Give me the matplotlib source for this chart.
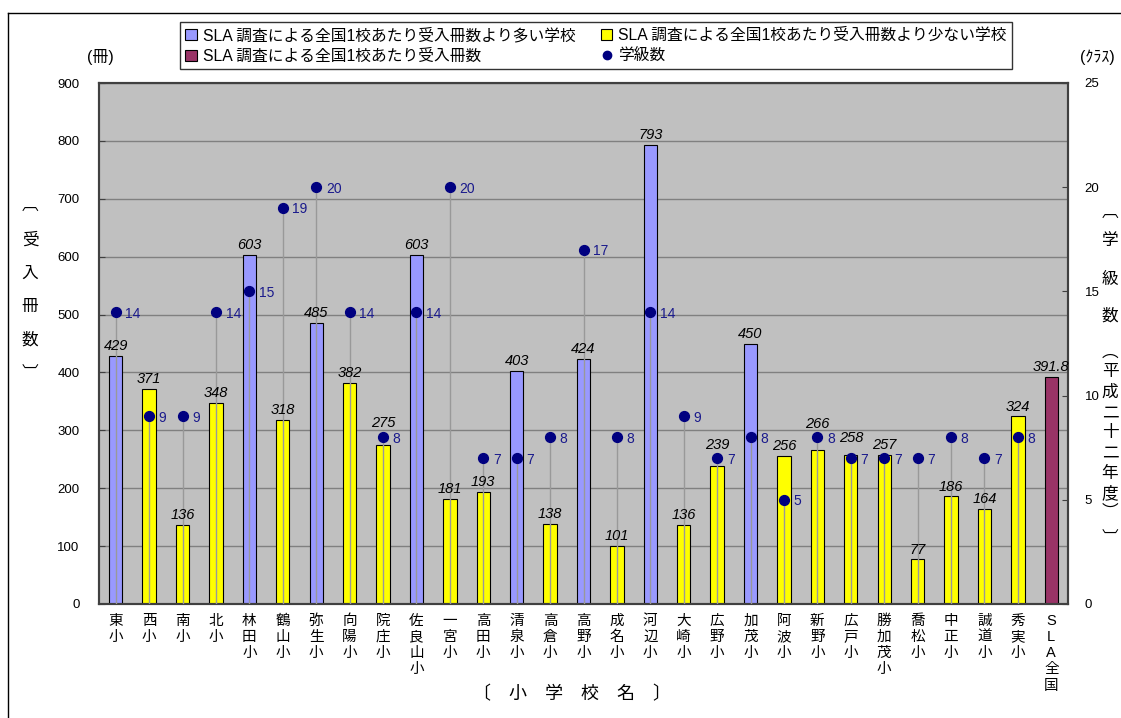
import matplotlib
matplotlib.use("Agg")
import matplotlib.pyplot as plt
from matplotlib.patches import Patch
from matplotlib.lines import Line2D
import numpy as np

plt.rcParams['font.family'] = ['Liberation Sans', 'Noto Sans CJK JP', 'DejaVu Sans']

# 学校名
schools = ["東小", "西小", "南小", "北小", "林田小", "鶴山小", "弥生小", "向陽小", "院庄小",
           "佐良山小", "一宮小", "高田小", "清泉小", "高倉小", "高野小", "成名小", "河辺小",
           "大崎小", "広野小", "加茂小", "阿波小", "新野小", "広戸小", "勝加茂小", "喬松小",
           "中正小", "誠道小", "秀実小"]
sla_label = "SLA全国"

# 受入冊数
books = [429, 371, 136, 348, 603, 318, 485, 382, 275, 603, 181, 193, 403, 138, 424,
         101, 793, 136, 239, 450, 256, 266, 258, 257, 77, 186, 164, 324]
sla_books = 391.8

# 学級数（平成二十二年度）
classes = [14, 9, 9, 14, 15, 19, 20, 14, 8, 14, 20, 7, 7, 8, 17, 8, 14, 9, 7, 8, 5,
           8, 7, 7, 7, 8, 7, 8]

left_ticks = [0, 100, 200, 300, 400, 500, 600, 700, 800, 900]
right_ticks = [0, 5, 10, 15, 20, 25]

C_MORE = "#9999FF"
C_LESS = "#FFFF00"
C_SLA = "#993366"
C_DOT = "#000080"

# 点と重なる値ラベルを少し持ち上げる量（ポイント）
label_lift = {"院庄小": 9, "新野小": 11.5, "広戸小": 5, "広野小": 8}

W, H = 1121, 718
fig = plt.figure(figsize=(W / 100, H / 100), dpi=100)
fig.patch.set_facecolor("white")

def fx(px):
    return px / W

def fy(py):
    return 1 - py / H

ax = fig.add_axes([fx(99), fy(604), fx(1068) - fx(99), fy(83) - fy(604)])
ax.set_facecolor("#C0C0C0")

n = len(schools)
x = np.arange(n + 1)
colors = [C_MORE if b > sla_books else C_LESS for b in books] + [C_SLA]
values = books + [sla_books]
names = schools + [sla_label]
ax.bar(x, values, width=0.4, color=colors, edgecolor="black", linewidth=0.8, zorder=2)

ax.set_xlim(-0.5, n + 0.5)
ax.set_ylim(0, 900)
ax.set_yticks(left_ticks)
ax.set_axisbelow(True)
ax.yaxis.grid(True, color="#808080", linewidth=1)
ax.tick_params(axis="y", direction="in", length=4, labelsize=9.5, pad=14, color="#404040")
ax.tick_params(axis="x", length=0, pad=7)
ax.set_xticks(x)
xlabels = ["\n".join(s) for s in schools] + ["\n".join(["S", "L", "A", "全", "国"])]
ax.set_xticklabels(xlabels, fontsize=10.5, linespacing=1.2)
for sp in ax.spines.values():
    sp.set_color("#404040")
    sp.set_linewidth(1.5)

ax2 = ax.twinx()
ax2.set_ylim(0, 25)
ax2.set_yticks(right_ticks)
ax2.tick_params(axis="y", direction="in", length=4, labelsize=9.5, pad=12, color="#404040")
for sp in ax2.spines.values():
    sp.set_color("#404040")
    sp.set_linewidth(1.5)
xs = x[:n]
ax2.vlines(xs, 0, classes, color="#999999", linewidth=1, zorder=3)
ax2.scatter(xs, classes, s=50, color=C_DOT, zorder=4)
for xi, c in zip(xs, classes):
    ax2.annotate(str(c), (xi, c), xytext=(7, -1), textcoords="offset points",
                 ha="left", va="center", fontsize=10, color="#1a1a8c", zorder=5)

# 棒の値ラベル（点より前面に表示）
for xi, v, nm in zip(x, values, names):
    lift = 2 + label_lift.get(nm, 0)
    ax2.annotate(f"{v:g}", (xi, v), xycoords=ax.transData, xytext=(0, lift),
                 textcoords="offset points", ha="center", va="bottom",
                 fontsize=10.5, style="italic", color="black", zorder=6)

# 軸見出し
fig.text(fx(100), fy(57), "(冊)", ha="center", va="center", fontsize=11.5)
fig.text(fx(1097), fy(57), "(ｸﾗｽ)", ha="center", va="center", fontsize=11.5)

left_chars = ["︹", "受", "入", "冊", "数", "︺"]
left_ys = [205, 240, 273, 306, 340, 373]
for ch, yy in zip(left_chars, left_ys):
    fig.text(fx(30), fy(yy), ch, ha="center", va="center", fontsize=12)

right_chars = ["︹", "学", "級", "数", "︵", "平", "成", "二", "十", "二", "年", "度", "︶", "︺"]
right_ys = [212, 241, 279, 316, 352, 372, 392, 413, 433, 453, 473, 493, 512, 538]
for ch, yy in zip(right_chars, right_ys):
    fig.text(fx(1110), fy(yy), ch, ha="center", va="center", fontsize=12)

fig.text(fx(572), fy(695), "〔　小　学　校　名　〕", ha="center", va="center", fontsize=13)

# 凡例
handles = [
    Patch(facecolor=C_MORE, edgecolor="black", linewidth=0.8),
    Patch(facecolor=C_SLA, edgecolor="black", linewidth=0.8),
    Patch(facecolor=C_LESS, edgecolor="black", linewidth=0.8),
    Line2D([], [], marker="o", linestyle="none", color=C_DOT, markersize=6),
]
labels = [
    "SLA 調査による全国1校あたり受入冊数より多い学校",
    "SLA 調査による全国1校あたり受入冊数",
    "SLA 調査による全国1校あたり受入冊数より少ない学校",
    "学級数",
]
leg = fig.legend(handles, labels, loc="upper left", bbox_to_anchor=(fx(180), fy(22)),
                 ncol=2, fontsize=11.3, frameon=True, fancybox=False, shadow=False,
                 handlelength=0.75, handleheight=0.75, handletextpad=0.35,
                 columnspacing=1.6, labelspacing=0.35, borderpad=0.35,
                 borderaxespad=0)
leg.get_frame().set_edgecolor("black")
leg.get_frame().set_linewidth(1)

# 外枠
fig.add_artist(Line2D([fx(8), 1], [fy(13), fy(13)], color="black", linewidth=1))
fig.add_artist(Line2D([fx(8), fx(8)], [fy(13), 0], color="black", linewidth=1))

fig.savefig("out.png", dpi=100)
